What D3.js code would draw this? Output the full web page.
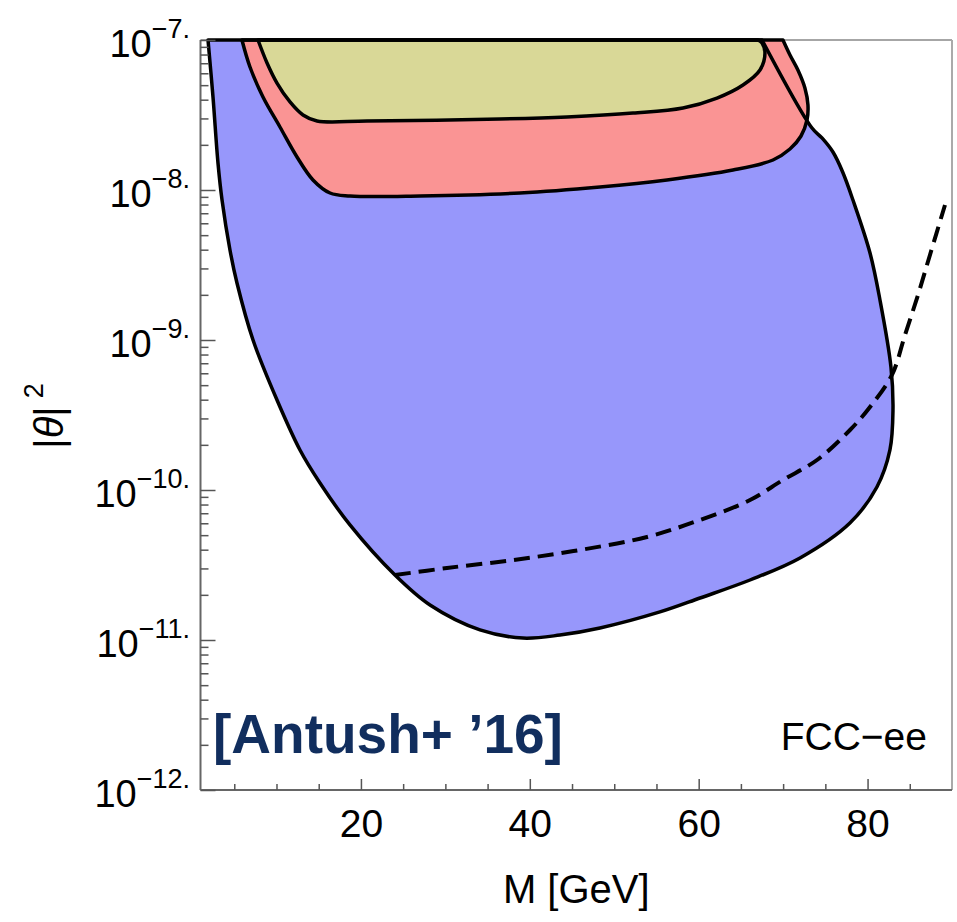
<!DOCTYPE html>
<html><head><meta charset="utf-8">
<script src="https://cdn.jsdelivr.net/npm/d3@7"></script>
<style>
body{margin:0;background:#fff}
svg{display:block;font-family:"Liberation Sans",Arial,Helvetica,sans-serif}
</style>
</head><body>
<svg id="c" width="957" height="922"></svg>
<script>
// ---- data (M in GeV, log10 |theta|^2) ----
const blueM   = [1.89,2.48,3.07,3.55,4.49,5.32,7.22,10.06,12.78,15.15,18.70,24.03,28.18,34.10,39.19,43.57,48.31,55.41,60.16,66.08,72.0,77.91,81.11,82.65,83.01,82.77,81.47,80.29,78.27,77.05,75.90,74.60,73.42,67.50];
const blueLog = [-7.0,-7.38,-7.82,-8.067,-8.40,-8.62,-9.0,-9.40,-9.733,-9.953,-10.233,-10.567,-10.767,-10.933,-10.987,-10.967,-10.92,-10.813,-10.72,-10.60,-10.453,-10.22,-9.98,-9.733,-9.467,-9.18,-8.733,-8.42,-8.067,-7.88,-7.747,-7.653,-7.587,-7.0];

const redM   = [5.91,6.86,8.40,10.41,12.43,14.32,16.34,18.71,27.0,38.84,48.31,56.24,64.06,68.80,70.81,72.12,72.83,72.94,72.58,71.75,70.81,69.98];
const redLog = [-7.0,-7.18,-7.38,-7.58,-7.78,-7.933,-8.02,-8.04,-8.04,-8.02,-7.98,-7.933,-7.867,-7.80,-7.727,-7.64,-7.533,-7.433,-7.32,-7.20,-7.10,-7.0];

const yellowM   = [7.81,8.88,10.06,11.60,13.14,14.80,20.72,36.47,44.40,52.22,58.14,62.17,65.25,67.26,67.85,67.50,67.02];
const yellowLog = [-7.0,-7.153,-7.287,-7.413,-7.50,-7.54,-7.54,-7.527,-7.513,-7.487,-7.453,-7.387,-7.30,-7.20,-7.087,-7.02,-7.0];

const dashM   = [24.03,30.19,38.01,45.94,53.88,60.15,66.08,69.99,74.01,77.92,80.29,82.89,84.43,85.97,87.39,89.17];
const dashLog = [-10.567,-10.52,-10.467,-10.40,-10.313,-10.20,-10.067,-9.933,-9.80,-9.60,-9.447,-9.233,-8.967,-8.70,-8.433,-8.10];

const xMajorTicks = [20,40,60,80];
const xMinorTicks = [5,10,15,25,30,35,45,50,55,65,70,75,85];
const yExponents  = [-7,-8,-9,-10,-11,-12];
const yTickLabels = ["−7.","−8.","−9.","−10.","−11.","−12."];

// ---- setup ----
const svg = d3.select("#c");
const x = d3.scaleLinear().domain([1,90]).range([200.5,952]);
const y = d3.scaleLog().domain([1e-12,1e-7]).range([790,40]);

svg.append("defs").append("clipPath").attr("id","clip")
  .append("rect").attr("x",x(1)).attr("y",y(1e-7)-2).attr("width",x(90)-x(1)).attr("height",y(1e-12)-y(1e-7)+2);

const toPts = (ms, ls) => ms.map((m,i)=>[m, Math.pow(10, ls[i])]);
const line = d3.line().x(d=>x(d[0])).y(d=>y(d[1])).curve(d3.curveCatmullRom.alpha(0.5));

// frame top (behind regions)
svg.append("line").attr("x1",x(1)).attr("x2",x(90)).attr("y1",y(1e-7)).attr("y2",y(1e-7)).attr("stroke","#888").attr("stroke-width",1.5);

const regions = [
  {pts: toPts(blueM, blueLog), fill:"#9797fb"},
  {pts: toPts(redM, redLog), fill:"#fa9494"},
  {pts: toPts(yellowM, yellowLog), fill:"#d9d897"}
];
const g = svg.append("g").attr("clip-path","url(#clip)");
regions.forEach(r => {
  g.append("path").attr("d", line(r.pts)+"Z").attr("fill", r.fill).attr("stroke","none");
});
regions.forEach(r => {
  g.append("path").attr("d", line(r.pts)+"Z").attr("fill","none")
    .attr("stroke","#000").attr("stroke-width",3.5).attr("stroke-linejoin","round");
});
g.append("path").attr("d", line(toPts(dashM, dashLog))).attr("fill","none")
  .attr("stroke","#000").attr("stroke-width",4).attr("stroke-dasharray","16 8");

// ---- frame ----
svg.append("line").attr("x1",x(90)).attr("x2",x(90)).attr("y1",y(1e-7)).attr("y2",y(1e-12)).attr("stroke","#aaa").attr("stroke-width",2);
svg.append("line").attr("x1",x(1)).attr("x2",x(1)).attr("y1",y(1e-7)).attr("y2",y(1e-12)).attr("stroke","#666").attr("stroke-width",2);
svg.append("line").attr("x1",x(1)).attr("x2",x(90)).attr("y1",y(1e-12)).attr("y2",y(1e-12)).attr("stroke","#666").attr("stroke-width",2);

// ---- y axis ticks ----
const yMinor = [];
yExponents.slice(0,-1).forEach(e => { for (let k=2;k<=9;k++) yMinor.push(k*Math.pow(10,e-1)); });
const yMajorVals = yExponents.map(e=>Math.pow(10,e));
const ax1 = svg.append("g").attr("transform",`translate(${x(1)},0)`)
  .call(d3.axisLeft(y).tickValues(yMajorVals).tickSize(-15).tickFormat(""));
const ax2 = svg.append("g").attr("transform",`translate(${x(1)},0)`)
  .call(d3.axisLeft(y).tickValues(yMinor).tickSize(-8).tickFormat(""));
[ax1,ax2].forEach(a=>{a.select(".domain").remove(); a.selectAll("line").attr("stroke","#555").attr("stroke-width",1.5);});

// y labels
yExponents.forEach((e,i) => {
  const t = svg.append("text").attr("x",190).attr("y",y(Math.pow(10,e))+17)
    .attr("text-anchor","end").attr("font-size",38).attr("fill","#000");
  t.append("tspan").text("10");
  t.append("tspan").attr("dy",-19).attr("font-size",27).text(yTickLabels[i]);
});

// ---- x axis ----
const bx1 = svg.append("g").attr("transform",`translate(0,${y(1e-12)})`)
  .call(d3.axisBottom(x).tickValues(xMajorTicks).tickSize(-11).tickPadding(19).tickFormat(d3.format("d")));
const bx2 = svg.append("g").attr("transform",`translate(0,${y(1e-12)})`)
  .call(d3.axisBottom(x).tickValues(xMinorTicks).tickSize(-6).tickFormat(""));
[bx1,bx2].forEach(a=>{a.select(".domain").remove(); a.selectAll("line").attr("stroke","#555").attr("stroke-width",1.5);});
bx1.selectAll("text").attr("font-size",39).attr("fill","#000").attr("font-family","'Liberation Sans',Arial,sans-serif");

// axis titles
svg.append("text").attr("x",(x(1)+x(90))/2).attr("y",903).attr("text-anchor","middle")
  .attr("font-size",40).attr("fill","#000").text("M [GeV]");

const yt = svg.append("text").attr("transform","translate(63,416) rotate(-90)")
  .attr("text-anchor","middle").attr("font-size",40).attr("fill","#000");
yt.append("tspan").text("|");
yt.append("tspan").attr("font-style","italic").text("θ");
yt.append("tspan").text("|");
yt.append("tspan").attr("dx",8).attr("dy",-20).attr("font-size",27).text("2");

// annotations
svg.append("text").attr("x",213).attr("y",753).attr("font-size",55).attr("font-weight","bold")
  .attr("fill","#112e5e").text("[Antush+ ’16]");
svg.append("text").attr("x",927).attr("y",750).attr("text-anchor","end").attr("font-size",39)
  .attr("fill","#000").text("FCC−ee");
</script>
</body></html>
